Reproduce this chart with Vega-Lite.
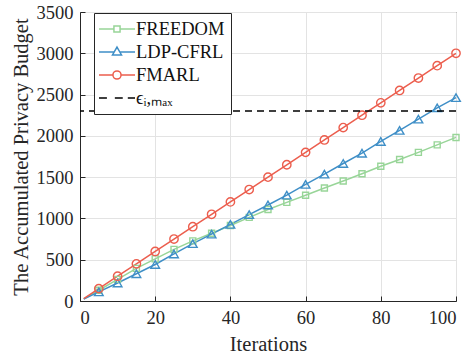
{
  "$schema": "https://vega.github.io/schema/vega-lite/v6.json",
  "width": 376,
  "height": 289,
  "autosize": "none",
  "padding": {"left": 80, "top": 12, "right": 20, "bottom": 57},
  "background": "white",
  "config": {
    "view": {"stroke": "#262626", "strokeWidth": 1},
    "axis": {
      "domainColor": "#262626",
      "tickColor": "#262626",
      "labelFont": "Liberation Serif",
      "labelFontSize": 18.5,
      "labelColor": "#262626",
      "titleFont": "Liberation Serif",
      "titleFontSize": 20.5,
      "titleFontWeight": "normal",
      "titleColor": "#262626",
      "gridColor": "#e3e3e3",
      "gridWidth": 1
    },
    "legend": {
      "labelFont": "Liberation Serif",
      "labelFontSize": 18.5,
      "labelColor": "#111111"
    }
  },
  "datasets": {
    "main": [
      {"t": 1, "s": "FREEDOM", "v": 26}, {"t": 5, "s": "FREEDOM", "v": 130}, {"t": 10, "s": "FREEDOM", "v": 262}, {"t": 15, "s": "FREEDOM", "v": 395}, {"t": 20, "s": "FREEDOM", "v": 510}, {"t": 25, "s": "FREEDOM", "v": 625}, {"t": 30, "s": "FREEDOM", "v": 728}, {"t": 35, "s": "FREEDOM", "v": 820}, {"t": 40, "s": "FREEDOM", "v": 915}, {"t": 45, "s": "FREEDOM", "v": 1013}, {"t": 50, "s": "FREEDOM", "v": 1108}, {"t": 55, "s": "FREEDOM", "v": 1195}, {"t": 60, "s": "FREEDOM", "v": 1280}, {"t": 65, "s": "FREEDOM", "v": 1368}, {"t": 70, "s": "FREEDOM", "v": 1453}, {"t": 75, "s": "FREEDOM", "v": 1541}, {"t": 80, "s": "FREEDOM", "v": 1632}, {"t": 85, "s": "FREEDOM", "v": 1713}, {"t": 90, "s": "FREEDOM", "v": 1800}, {"t": 95, "s": "FREEDOM", "v": 1891}, {"t": 100, "s": "FREEDOM", "v": 1981},
      {"t": 1, "s": "LDP-CFRL", "v": 22}, {"t": 5, "s": "LDP-CFRL", "v": 110}, {"t": 10, "s": "LDP-CFRL", "v": 218}, {"t": 15, "s": "LDP-CFRL", "v": 330}, {"t": 20, "s": "LDP-CFRL", "v": 442}, {"t": 25, "s": "LDP-CFRL", "v": 570}, {"t": 30, "s": "LDP-CFRL", "v": 695}, {"t": 35, "s": "LDP-CFRL", "v": 810}, {"t": 40, "s": "LDP-CFRL", "v": 928}, {"t": 45, "s": "LDP-CFRL", "v": 1046}, {"t": 50, "s": "LDP-CFRL", "v": 1163}, {"t": 55, "s": "LDP-CFRL", "v": 1282}, {"t": 60, "s": "LDP-CFRL", "v": 1412}, {"t": 65, "s": "LDP-CFRL", "v": 1537}, {"t": 70, "s": "LDP-CFRL", "v": 1665}, {"t": 75, "s": "LDP-CFRL", "v": 1790}, {"t": 80, "s": "LDP-CFRL", "v": 1932}, {"t": 85, "s": "LDP-CFRL", "v": 2066}, {"t": 90, "s": "LDP-CFRL", "v": 2203}, {"t": 95, "s": "LDP-CFRL", "v": 2340}, {"t": 100, "s": "LDP-CFRL", "v": 2463},
      {"t": 1, "s": "FMARL", "v": 30}, {"t": 5, "s": "FMARL", "v": 150}, {"t": 10, "s": "FMARL", "v": 300}, {"t": 15, "s": "FMARL", "v": 450}, {"t": 20, "s": "FMARL", "v": 600}, {"t": 25, "s": "FMARL", "v": 750}, {"t": 30, "s": "FMARL", "v": 900}, {"t": 35, "s": "FMARL", "v": 1050}, {"t": 40, "s": "FMARL", "v": 1200}, {"t": 45, "s": "FMARL", "v": 1350}, {"t": 50, "s": "FMARL", "v": 1500}, {"t": 55, "s": "FMARL", "v": 1650}, {"t": 60, "s": "FMARL", "v": 1800}, {"t": 65, "s": "FMARL", "v": 1950}, {"t": 70, "s": "FMARL", "v": 2100}, {"t": 75, "s": "FMARL", "v": 2250}, {"t": 80, "s": "FMARL", "v": 2400}, {"t": 85, "s": "FMARL", "v": 2550}, {"t": 90, "s": "FMARL", "v": 2700}, {"t": 95, "s": "FMARL", "v": 2850}, {"t": 100, "s": "FMARL", "v": 3000}
    ],
    "eps": [{"s": "eps", "v": 2300}],
    "leg": [{"s": "FREEDOM"}, {"s": "LDP-CFRL"}, {"s": "FMARL"}, {"s": "eps"}]
  },
  "layer": [
    {
      "data": {"name": "main"},
      "mark": {"type": "line", "strokeWidth": 1.5},
      "encoding": {
        "x": {"field": "t", "type": "quantitative", "scale": {"domain": [0, 100], "nice": false},
              "axis": {"values": [0, 20, 40, 60, 80, 100], "format": "d", "labelFont": "Liberation Serif", "title": "Iterations", "tickSize": -5, "labelPadding": 12, "titlePadding": 8, "grid": true}},
        "y": {"field": "v", "type": "quantitative", "scale": {"domain": [0, 3500], "nice": false},
              "axis": {"values": [0, 500, 1000, 1500, 2000, 2500, 3000, 3500], "format": "d", "labelFont": "Liberation Serif", "title": "The Accumulated Privacy Budget", "tickSize": -5, "labelPadding": 12, "titlePadding": 5, "grid": true}},
        "stroke": {"field": "s", "type": "nominal",
                  "scale": {"domain": ["FREEDOM", "LDP-CFRL", "FMARL"], "range": ["#98d598", "#3f8fc7", "#ec5e4e"]},
                  "legend": null},
        "detail": {"field": "s"}
      }
    },
    {
      "data": {"name": "main"},
      "transform": [{"filter": "datum.s == 'FREEDOM' && datum.t % 5 == 0"}],
      "mark": {"type": "point", "shape": "square", "size": 36, "strokeWidth": 1.4, "filled": false, "color": "#98d598", "opacity": 1},
      "encoding": {
        "x": {"field": "t", "type": "quantitative"},
        "y": {"field": "v", "type": "quantitative"}
      }
    },
    {
      "data": {"name": "main"},
      "transform": [{"filter": "datum.s == 'LDP-CFRL' && datum.t % 5 == 0"}],
      "mark": {"type": "point", "shape": "triangle-up", "size": 75, "strokeWidth": 1.4, "filled": false, "color": "#3f8fc7", "opacity": 1},
      "encoding": {
        "x": {"field": "t", "type": "quantitative"},
        "y": {"field": "v", "type": "quantitative"}
      }
    },
    {
      "data": {"name": "main"},
      "transform": [{"filter": "datum.s == 'FMARL' && datum.t % 5 == 0"}],
      "mark": {"type": "point", "shape": "circle", "size": 70, "strokeWidth": 1.4, "filled": false, "color": "#ec5e4e", "opacity": 1},
      "encoding": {
        "x": {"field": "t", "type": "quantitative"},
        "y": {"field": "v", "type": "quantitative"}
      }
    },
    {
      "data": {"name": "eps"},
      "mark": {"type": "rule", "color": "#000000", "strokeWidth": 1.5, "strokeDash": [7, 5]},
      "encoding": {
        "y": {"field": "v", "type": "quantitative"}
      }
    },
    {
      "data": {"name": "leg"},
      "mark": {"type": "point", "filled": false, "opacity": 0, "strokeWidth": 1.5},
      "encoding": {
        "color": {"field": "s", "type": "nominal",
                  "scale": {"domain": ["FREEDOM", "LDP-CFRL", "FMARL", "eps"], "range": ["#98d598", "#3f8fc7", "#ec5e4e", "#000000"]},
                  "legend": {
                    "orient": "none", "legendX": 14, "legendY": 1, "title": null,
                    "strokeColor": "#262626", "fillColor": "white", "padding": 6,
                    "symbolSize": 324, "symbolOffset": 7, "symbolStrokeWidth": 1.5, "symbolOpacity": 1, "symbolFillColor": "transparent",
                    "labelFont": "Liberation Serif", "labelFontSize": 18.5,
                    "labelOffset": 9, "rowPadding": 3,
                    "labelExpr": "datum.value == 'eps' ? '\u03f5\u1d62,\u2098\u2090\u2093' : datum.label"
                  }},
        "shape": {"field": "s", "type": "nominal",
                  "scale": {"domain": ["FREEDOM", "LDP-CFRL", "FMARL", "eps"],
                            "range": [
                              "M-2,0H-0.34M0.34,0H2M-0.34,-0.34H0.34V0.34H-0.34Z",
                              "M-2,0H-0.3M0.3,0H2M0,-0.55L0.5,0.33L-0.5,0.33Z",
                              "M-2,0H-0.45M0.45,0H2M0.45,0A0.45,0.45 0 1,1 -0.45,0A0.45,0.45 0 1,1 0.45,0Z",
                              "M-2,0H-1.12M-0.24,0H0.64M1.2,0H2"
                            ]},
                  "legend": {
                    "orient": "none", "legendX": 14, "legendY": 1, "title": null,
                    "strokeColor": "#262626", "fillColor": "white", "padding": 6,
                    "symbolSize": 324, "symbolOffset": 7, "symbolStrokeWidth": 1.5, "symbolOpacity": 1, "symbolFillColor": "transparent",
                    "labelFont": "Liberation Serif", "labelFontSize": 18.5,
                    "labelOffset": 9, "rowPadding": 3,
                    "labelExpr": "datum.value == 'eps' ? '\u03f5\u1d62,\u2098\u2090\u2093' : datum.label"
                  }}
      }
    }
  ]
}
